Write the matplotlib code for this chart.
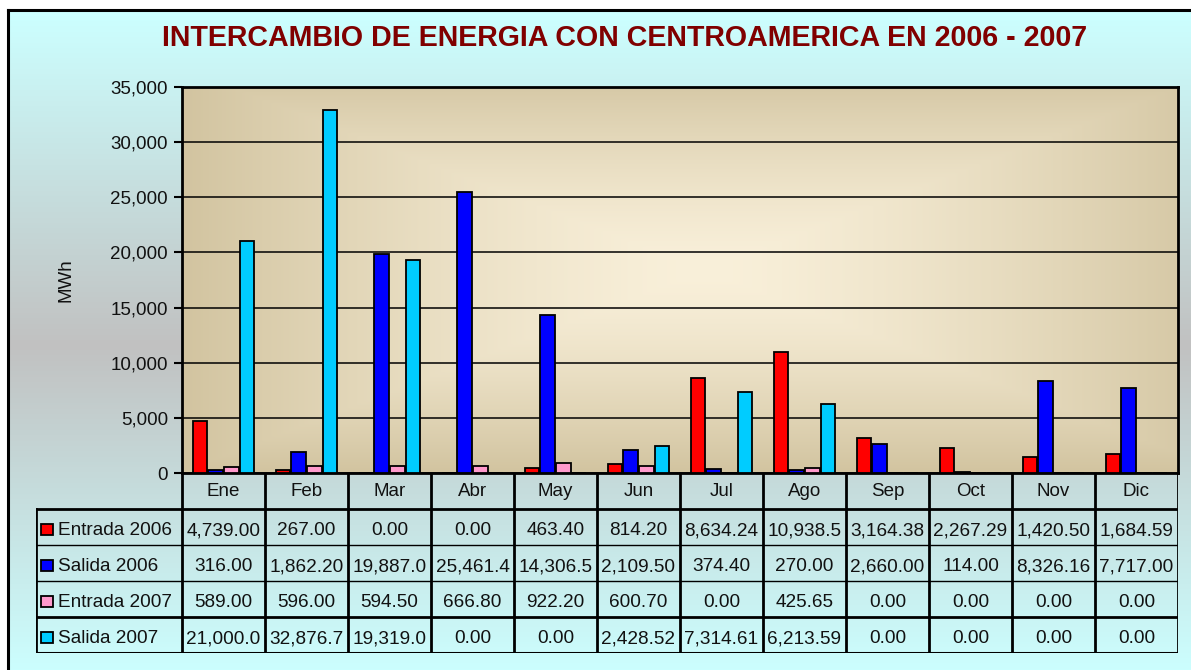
import numpy as np
import matplotlib
matplotlib.use("Agg")
import matplotlib.pyplot as plt
from matplotlib.patches import Rectangle
from matplotlib.ticker import FuncFormatter

plt.rcParams['font.family'] = ['Liberation Sans', 'DejaVu Sans']

months = ["Ene", "Feb", "Mar", "Abr", "May", "Jun", "Jul", "Ago", "Sep", "Oct", "Nov", "Dic"]
series_names = ["Entrada 2006", "Salida 2006", "Entrada 2007", "Salida 2007"]
entrada_2006 = [4739.00, 267.00, 0.00, 0.00, 463.40, 814.20, 8634.24, 10938.50, 3164.38, 2267.29, 1420.50, 1684.59]
salida_2006 = [316.00, 1862.20, 19887.00, 25461.40, 14306.50, 2109.50, 374.40, 270.00, 2660.00, 114.00, 8326.16, 7717.00]
entrada_2007 = [589.00, 596.00, 594.50, 666.80, 922.20, 600.70, 0.00, 425.65, 0.00, 0.00, 0.00, 0.00]
salida_2007 = [21000.00, 32876.70, 19319.00, 0.00, 0.00, 2428.52, 7314.61, 6213.59, 0.00, 0.00, 0.00, 0.00]
series = [entrada_2006, salida_2006, entrada_2007, salida_2007]
colors = ["#FF0000", "#0000FF", "#FF99CC", "#00CCFF"]
yticks = [0, 5000, 10000, 15000, 20000, 25000, 30000, 35000]
title = "INTERCAMBIO DE ENERGIA CON CENTROAMERICA EN 2006 - 2007"

W, H = 1191, 670
fig = plt.figure(figsize=(W / 100, H / 100), dpi=100)
fig.patch.set_facecolor("white")

def fx(px):
    return px / W

def fy(py):
    return 1 - py / H

# ---- chart-area background (vertical gradient cyan -> gray -> cyan)
bg = fig.add_axes([fx(8), 0, 1 - fx(8), fy(10)], zorder=-10)
ys = np.linspace(10, 670, 400)
cyan = np.array([204, 255, 255]) / 255
gray = np.array([193, 193, 193]) / 255
t = np.clip(np.abs(ys - 345) / 330, 0, 1)[:, None]
grad = gray * (1 - t) + cyan * t
bg.imshow(np.repeat(grad[:, None, :], 2, axis=1), aspect='auto', extent=[0, 1, 0, 1])
bg.set_xlim(0, 1); bg.set_ylim(0, 1)
bg.set_xticks([]); bg.set_yticks([])
for s in ["right", "bottom"]:
    bg.spines[s].set_visible(False)
for s in ["left", "top"]:
    bg.spines[s].set_linewidth(2.2)

# ---- plot area gradient
pl, pr, pt, pb = 182, 1178, 87, 473
pos = [fx(pl), fy(pb), fx(pr - pl), (pb - pt) / H]
pbg = fig.add_axes(pos, zorder=-5)
nx, ny = 300, 150
gx = np.linspace(-1, 1, nx)[None, :]
gy = np.linspace(-1, 1, ny)[:, None]
tt = np.clip(np.maximum(np.abs(gx - 0.05) / 1.05, np.abs(gy + 0.05) / 1.05), 0, 1) ** 1.4
tan = np.array([210, 196, 160]) / 255
light = np.array([249, 240, 218]) / 255
img = light * (1 - tt[..., None]) + tan * tt[..., None]
pbg.imshow(img, aspect='auto', extent=[0, 1, 0, 1])
pbg.axis('off')

ax = fig.add_axes(pos, zorder=1)
ax.set_facecolor("none")
x = np.arange(len(months))
bw = 0.19
for k, (vals, col) in enumerate(zip(series, colors)):
    ax.bar(x + (k - 1.5) * bw, vals, width=0.175, color=col, edgecolor="black",
           linewidth=1.3, zorder=3)
ax.set_xlim(-0.5, len(months) - 0.5)
ax.set_ylim(0, 35000)
ax.set_yticks(yticks)
ax.yaxis.set_major_formatter(FuncFormatter(lambda v, p: f"{int(v):,}"))
ax.tick_params(axis='y', direction='out', length=6, width=1.5, labelsize=13.5, pad=4,
               labelcolor='#111111')
ax.set_xticks([])
ax.grid(axis='y', color='black', linewidth=1.1, zorder=1)
ax.set_axisbelow(True)
for s in ax.spines.values():
    s.set_linewidth(2.0)
ax.set_ylabel("MWh", fontsize=13.5, labelpad=26, color='#111111')

fig.text(fx(625), fy(38), title, ha='center', va='center', fontsize=20.6,
         fontweight='bold', color='#800000')

# ---- data table
tl, tr, ttop, tbot = 36, 1178, 473, 653
tab = fig.add_axes([fx(tl), fy(tbot), fx(tr - tl), (tbot - ttop) / H], zorder=2)
tab.set_facecolor("none")
xL = -0.5 - (pl - tl) / ((pr - pl) / 12)
tab.set_xlim(xL, 11.5)
tab.set_ylim(5, 0)
tab.axis('off')
for i in range(13):
    tab.plot([i - 0.5, i - 0.5], [0, 5], color='black', lw=2.0, solid_capstyle='butt')
tab.plot([xL, xL], [1, 5], color='black', lw=2.0)
for r, lw in zip([1, 2, 3, 4, 5], [2.0, 1.0, 1.0, 2.0, 2.2]):
    tab.plot([xL, 11.5], [r, r], color='black', lw=lw, solid_capstyle='projecting')

for i, m in enumerate(months):
    tab.text(i, 0.52, m, ha='center', va='center', fontsize=13.5, color='#111111')

def fmt(v):
    return f"{v:,.2f}"[:8]

for r, (name, vals, col) in enumerate(zip(series_names, series, colors), start=1):
    kw = 12 / 83
    tab.add_patch(Rectangle((xL + 5 / 83, r + 0.6 - 0.17), kw, 0.3,
                            facecolor=col, edgecolor='black', lw=1.3))
    tab.text(xL + 22 / 83, r + 0.6, name, ha='left', va='center', fontsize=13.7,
             color='#111111')
    for i, v in enumerate(vals):
        tab.text(i, r + 0.6, fmt(v), ha='center', va='center', fontsize=13.7,
                 color='#111111')

fig.savefig("out.png", dpi=100)
